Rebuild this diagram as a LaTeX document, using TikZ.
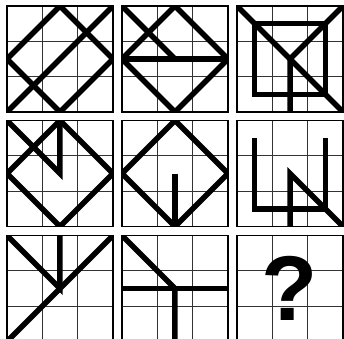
\documentclass[tikz,border=0pt]{standalone}
\usepackage{fontspec}
\setsansfont{Liberation Sans}
\definecolor{puzInk}{HTML}{000000}
\definecolor{puzLine}{HTML}{333333}
\tikzset{
  puz frame/.style={draw=puzInk, line width=1.8pt},
  puz grid/.style={draw=puzLine, line width=1.1pt},
  puz stroke/.style={draw=puzInk, line width=5.5pt, line cap=butt, line join=miter},
  puz cell/.style 2 args={shift={(#1,#2)}, x=35.33pt, y=35.33pt},
  puz mark/.style={font=\sffamily\bfseries\fontsize{92}{92}\selectfont, inner sep=0pt, text=puzInk}
}
\newcommand{\puzDiamond}{(1.5,3) -- (3,1.5) -- (1.5,0) -- (0,1.5) -- cycle}
\begin{document}
\begin{tikzpicture}[x=1pt,y=1pt]
  \useasboundingbox (0,0) rectangle (344,338);
  \foreach \cx in {7,122,237} {
    \foreach \cy in {226,111.5,-3.5} {
      \begin{scope}[puz cell={\cx}{\cy}]
        \draw[puz grid] (1,0) -- (1,3) (2,0) -- (2,3) (0,1) -- (3,1) (0,2) -- (3,2);
      \end{scope}
    }
  }
  \begin{scope}[puz cell={7}{226}]
    \clip (0,0) rectangle (3,3);
    \draw[puz stroke] \puzDiamond;
    \draw[puz stroke] (0,0) -- (3,3);
  \end{scope}
  \begin{scope}[puz cell={122}{226}]
    \clip (0,0) rectangle (3,3);
    \draw[puz stroke] \puzDiamond;
    \draw[puz stroke] (0,1.5) -- (3,1.5);
    \draw[puz stroke] (0,3) -- (1.5,1.5);
  \end{scope}
  \begin{scope}[puz cell={237}{226}]
    \clip (0,0) rectangle (3,3);
    \draw[puz stroke] (0.5,0.5) rectangle (2.5,2.5);
    \draw[puz stroke] (0,3) -- (3,0);
    \draw[puz stroke] (3,3) -- (1.5,1.5) -- (1.5,0);
  \end{scope}
  \begin{scope}[puz cell={7}{111.5}]
    \clip (0,0) rectangle (3,3);
    \draw[puz stroke] \puzDiamond;
    \draw[puz stroke] (0,3) -- (1.5,1.5) -- (1.5,3);
  \end{scope}
  \begin{scope}[puz cell={122}{111.5}]
    \clip (0,0) rectangle (3,3);
    \draw[puz stroke] \puzDiamond;
    \draw[puz stroke] (1.5,1.5) -- (1.5,0);
  \end{scope}
  \begin{scope}[puz cell={237}{111.5}]
    \clip (0,0) rectangle (3,3);
    \draw[puz stroke] (0.5,2.5) -- (0.5,0.5) -- (2.5,0.5) -- (2.5,2.5);
    \draw[puz stroke] (1.5,0) -- (1.5,1.5) -- (3,0);
  \end{scope}
  \begin{scope}[puz cell={7}{-3.5}]
    \clip (0,0) rectangle (3,3);
    \draw[puz stroke] (0,3) -- (1.5,1.5) -- (1.5,3);
    \draw[puz stroke] (3,3) -- (0,0);
  \end{scope}
  \begin{scope}[puz cell={122}{-3.5}]
    \clip (0,0) rectangle (3,3);
    \draw[puz stroke] (0,3) -- (1.5,1.5) -- (1.5,0);
    \draw[puz stroke] (0,1.5) -- (3,1.5);
  \end{scope}
  \begin{scope}[puz cell={237}{-3.5}]
    \node[puz mark] (ask) at (1.5,1.5) {?};
  \end{scope}
  \foreach \cx in {7,122,237} {
    \foreach \cy in {226,111.5,-3.5} {
      \draw[puz frame, puz cell={\cx}{\cy}] (0,0) rectangle (3,3);
    }
  }
\end{tikzpicture}
\end{document}
